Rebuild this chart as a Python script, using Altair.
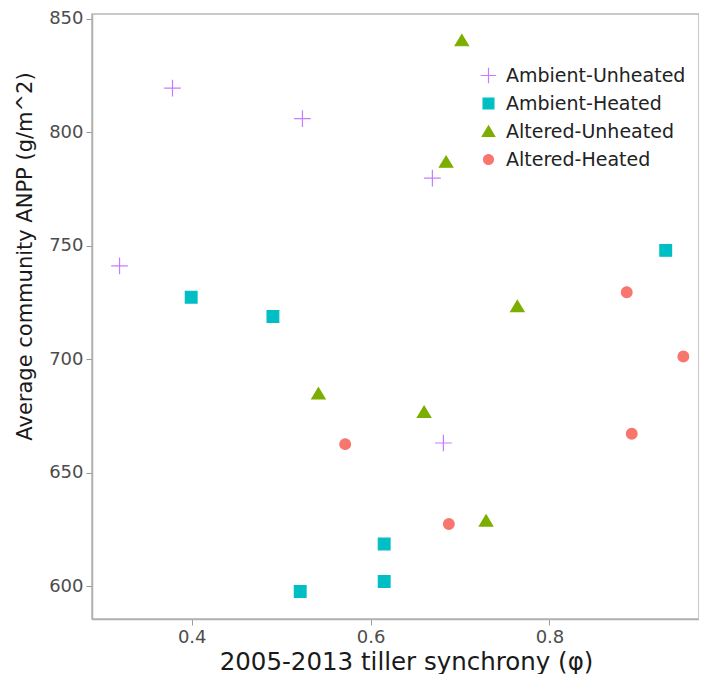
import altair as alt
import pandas as pd

groups = ["Ambient-Unheated", "Ambient-Heated", "Altered-Unheated", "Altered-Heated"]
colors = ["#C77CFF", "#00BFC4", "#7CAE00", "#F8766D"]

amb_unh_x = [0.3785, 0.5238, 0.3193, 0.6691, 0.6814]
amb_unh_y = [819.4, 805.9, 741.1, 779.7, 663.1]

amb_heat_x = [0.3994, 0.4908, 0.9300, 0.6152, 0.6152, 0.5213]
amb_heat_y = [727.3, 718.8, 747.9, 618.6, 602.1, 597.7]

alt_unh_x = [0.7020, 0.6844, 0.7641, 0.5417, 0.6598, 0.7291]
alt_unh_y = [840.3, 786.8, 723.2, 684.8, 676.7, 628.8]

alt_heat_x = [0.5716, 0.6875, 0.8864, 0.8920, 0.9497]
alt_heat_y = [662.6, 627.4, 729.5, 667.2, 701.2]

rows = []
for g, xs, ys in zip(groups,
                     [amb_unh_x, amb_heat_x, alt_unh_x, alt_heat_x],
                     [amb_unh_y, amb_heat_y, alt_unh_y, alt_heat_y]):
    for xv, yv in zip(xs, ys):
        rows.append({"group": g, "phi": xv, "anpp": yv})
df = pd.DataFrame(rows)

shapes = [
    "M-1,0L1,0M0,-1L0,1",
    "M-0.7,-0.7H0.7V0.7H-0.7Z",
    "M0,-0.72L0.8,0.62L-0.8,0.62Z",
    "M0.64,0A0.64,0.64 0 1,1 -0.64,0A0.64,0.64 0 1,1 0.64,0Z",
]

FONT = "DejaVu Sans"

legend = alt.Legend(
    title=None, orient="none", legendX=387, legendY=52,
    labelFont=FONT, labelFontSize=19, labelColor="#222222", labelLimit=400,
    symbolSize=240, rowPadding=8, labelOffset=8, symbolStrokeWidth=1.2,
)

color_scale = alt.Scale(domain=groups, range=colors)

chart = alt.Chart(df).mark_point(filled=True, size=280, strokeWidth=1.2, opacity=1).encode(
    x=alt.X("phi:Q", title="2005-2013 tiller synchrony (φ)",
            scale=alt.Scale(domain=[0.2885, 0.9672], nice=False, zero=False),
            axis=alt.Axis(values=[0.4, 0.6, 0.8], format=".1f", titleX=314)),
    y=alt.Y("anpp:Q", title="Average community ANPP (g/m^2)",
            scale=alt.Scale(domain=[585.6, 852], nice=False, zero=False),
            axis=alt.Axis(values=[600, 650, 700, 750, 800, 850], titleY=242)),
    color=alt.Color("group:N", scale=color_scale, legend=legend),
    stroke=alt.Stroke("group:N", scale=color_scale, legend=legend),
    shape=alt.Shape("group:N", scale=alt.Scale(domain=groups, range=shapes), legend=legend),
).properties(
    width=607, height=605,
    autosize=alt.AutoSizeParams(type="none"),
    padding={"left": 84, "top": 6, "right": 0, "bottom": 55},
).configure_view(
    stroke="#b8b8b8", strokeWidth=1.5
).configure_axis(
    grid=False,
    domainColor="#b0b0b0", domainWidth=1.5,
    tickColor="#9a9a9a", tickSize=6, tickWidth=1,
    labelFont=FONT, labelFontSize=18, labelColor="#4d4d4d", labelPadding=3,
    titleFont=FONT, titleFontWeight="normal", titleColor="#1a1a1a",
).configure_axisX(
    titleFontSize=24.5, titlePadding=4,
).configure_axisY(
    titleFontSize=21, titlePadding=13,
)

chart.save("out.html", embed_options={"renderer": "svg", "actions": False})
